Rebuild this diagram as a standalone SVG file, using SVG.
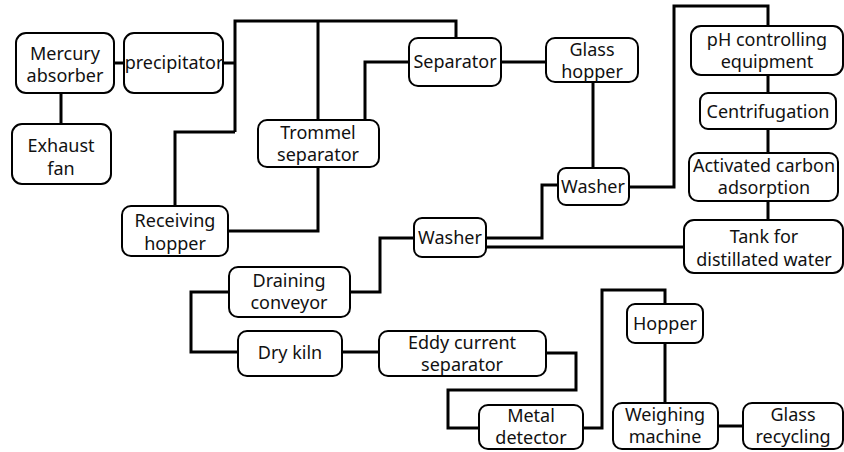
<svg xmlns="http://www.w3.org/2000/svg" width="844" height="452" viewBox="0 0 844 452">
<style>
.b{fill:#fff;stroke:#000;stroke-width:2}
.t{font-family:"Noto Sans","Open Sans",sans-serif;font-size:18px;fill:#111;text-anchor:middle}
.c{fill:none;stroke:#000;stroke-width:3;stroke-linejoin:miter}
</style>
<rect width="844" height="452" fill="#fff"/>
<g id="connectors">
<path class="c" d="M61,93V124"/>
<path class="c" d="M114,63H124"/>
<path class="c" d="M223,63H235M235,132V21H456V38M318,21V120M235,132H175V206"/>
<path class="c" d="M318,167V231H228"/>
<path class="c" d="M365,120V62H409"/>
<path class="c" d="M501,62H546"/>
<path class="c" d="M593,82V168"/>
<path class="c" d="M629,187H674V6H768V26"/>
<path class="c" d="M768,75V93M768,129V153M768,201V220"/>
<path class="c" d="M486,238H542V185H558"/>
<path class="c" d="M486,247H684"/>
<path class="c" d="M414,238H380V292H350"/>
<path class="c" d="M229,292H191V352H238"/>
<path class="c" d="M342,352H379"/>
<path class="c" d="M546,353H576V390H448V428H479"/>
<path class="c" d="M583,428H602V290H665V304"/>
<path class="c" d="M665,343V403"/>
<path class="c" d="M718,426H743"/>
</g>
<g id="mercury"><rect class="b" x="16" y="33" width="98" height="60" rx="10"/><text class="t" x="65" y="60">Mercury</text><text class="t" x="65" y="82">absorber</text></g>
<g id="exhaust"><rect class="b" x="12" y="124" width="99" height="60" rx="10"/><text class="t" x="61" y="152">Exhaust</text><text class="t" x="61" y="175">fan</text></g>
<g id="precipitator"><rect class="b" x="124" y="33" width="99" height="60" rx="10"/><text class="t" x="174" y="69">precipitator</text></g>
<g id="trommel"><rect class="b" x="258" y="120" width="121" height="47" rx="9"/><text class="t" x="318" y="139">Trommel</text><text class="t" x="318" y="161">separator</text></g>
<g id="receiving"><rect class="b" x="122" y="206" width="106" height="50" rx="9"/><text class="t" x="175" y="227">Receiving</text><text class="t" x="175" y="250">hopper</text></g>
<g id="separator"><rect class="b" x="409" y="38" width="92" height="48" rx="9"/><text class="t" x="455" y="68">Separator</text></g>
<g id="glasshopper"><rect class="b" x="546" y="38" width="92" height="44" rx="9"/><text class="t" x="592" y="56">Glass</text><text class="t" x="592" y="78">hopper</text></g>
<g id="washer1"><rect class="b" x="558" y="168" width="71" height="37" rx="8"/><text class="t" x="593" y="193">Washer</text></g>
<g id="ph"><rect class="b" x="691" y="26" width="152" height="49" rx="10"/><text class="t" x="767" y="46">pH controlling</text><text class="t" x="767" y="68">equipment</text></g>
<g id="centrifugation"><rect class="b" x="700" y="93" width="136" height="36" rx="8"/><text class="t" x="768" y="118">Centrifugation</text></g>
<g id="activated"><rect class="b" x="689" y="153" width="149" height="48" rx="9"/><text class="t" x="764" y="172">Activated carbon</text><text class="t" x="764" y="194">adsorption</text></g>
<g id="tank"><rect class="b" x="684" y="220" width="159" height="53" rx="10"/><text class="t" x="764" y="243">Tank for</text><text class="t" x="764" y="266">distillated water</text></g>
<g id="washer2"><rect class="b" x="414" y="218" width="72" height="39" rx="8"/><text class="t" x="450" y="244">Washer</text></g>
<g id="draining"><rect class="b" x="229" y="267" width="121" height="50" rx="9"/><text class="t" x="289" y="287">Draining</text><text class="t" x="289" y="309">conveyor</text></g>
<g id="drykiln"><rect class="b" x="238" y="331" width="104" height="45" rx="9"/><text class="t" x="290" y="359">Dry kiln</text></g>
<g id="eddy"><rect class="b" x="379" y="331" width="167" height="45" rx="9"/><text class="t" x="462" y="349">Eddy current</text><text class="t" x="462" y="371">separator</text></g>
<g id="metal"><rect class="b" x="479" y="405" width="104" height="44" rx="9"/><text class="t" x="531" y="422">Metal</text><text class="t" x="531" y="444">detector</text></g>
<g id="hopper"><rect class="b" x="627" y="304" width="76" height="39" rx="8"/><text class="t" x="665" y="330">Hopper</text></g>
<g id="weighing"><rect class="b" x="613" y="403" width="105" height="46" rx="9"/><text class="t" x="665" y="421">Weighing</text><text class="t" x="665" y="443">machine</text></g>
<g id="glassrec"><rect class="b" x="743" y="403" width="100" height="46" rx="9"/><text class="t" x="793" y="421">Glass</text><text class="t" x="793" y="443">recycling</text></g>
</svg>
